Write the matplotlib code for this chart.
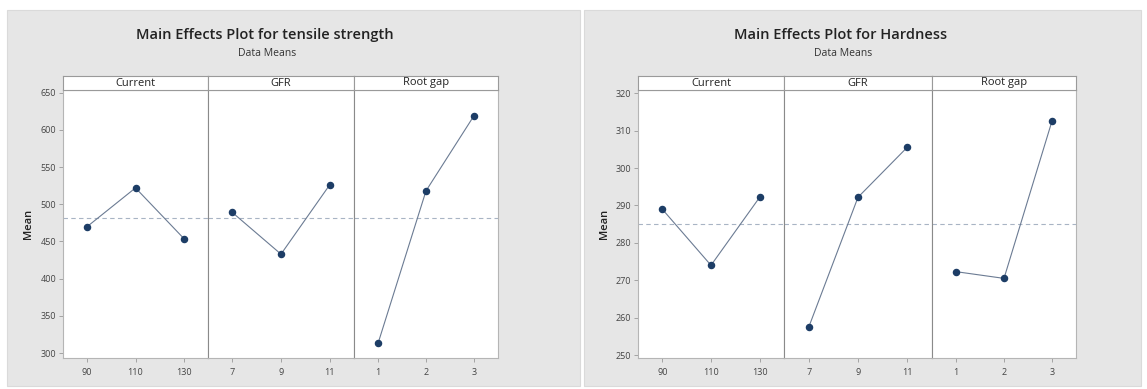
import numpy as np
import matplotlib.pyplot as plt
from matplotlib.patches import Rectangle

plt.rcParams['font.family'] = ['Open Sans', 'DejaVu Sans']

# factor levels
factors = ['Current', 'GFR', 'Root gap']
levels_current = ['90', '110', '130']
levels_gfr = ['7', '9', '11']
levels_gap = ['1', '2', '3']

# means
tensile_current = [470, 522, 454]
tensile_gfr = [489, 433, 526]
tensile_gap = [313, 518, 619]
tensile_mean = 482

hard_current = [289.0, 274.0, 292.2]
hard_gfr = [257.4, 292.2, 305.6]
hard_gap = [272.3, 270.5, 312.6]
hard_mean = 285.1

W, H = 1147, 389
fig = plt.figure(figsize=(W / 100, H / 100), dpi=100)
fig.patch.set_facecolor('white')

def fx(px):
    return px / W

def fy(py):
    return 1 - py / H

# grey backgrounds of the two minitab windows
for x0, x1 in [(7, 580), (584, 1141)]:
    fig.patches.append(Rectangle((fx(x0), fy(386)), fx(x1 - x0), (386 - 10) / H,
                                 transform=fig.transFigure, facecolor='#e6e6e6',
                                 edgecolor='#dadada', lw=0.8, zorder=-5))

line_c = '#6b7b93'
mark_c = '#1d3d66'
tick_c = '#444444'


def main_effects(xs, title, title_x, data, levels, mean, ylim, yticks, ylab_x):
    top, bottom = 90, 358
    fig.text(fx(title_x), fy(35), title, ha='center', va='center',
             fontsize=10.5, fontweight='semibold', color='#222222')
    fig.text(fx(title_x + 2), fy(54), 'Data Means', ha='center', va='center',
             fontsize=7.5, color='#333333')
    fig.text(fx(ylab_x), fy((top + bottom) / 2), 'Mean', rotation=90, ha='center',
             va='center', fontsize=8, fontweight='semibold', color='#222222')
    for i in range(3):
        a, b = xs[i], xs[i + 1]
        ax = fig.add_axes([fx(a), fy(bottom), fx(b - a), (bottom - top) / H])
        ax.set_facecolor('white')
        pos = np.arange(1, 4)
        ax.plot(pos, data[i], color=line_c, lw=0.8, zorder=2)
        ax.plot(pos, data[i], 'o', ms=4.4, color=mark_c, mec=mark_c, zorder=3)
        ax.axhline(mean, color='#a8b4c4', lw=0.8, ls=(0, (4, 3)), zorder=1)
        ax.set_xlim(0.5, 3.5)
        ax.set_ylim(*ylim)
        ax.set_xticks(pos)
        ax.set_xticklabels(levels[i])
        ax.tick_params(axis='x', length=3, width=0.6, color='#999999',
                       labelsize=6.5, labelcolor=tick_c, pad=4)
        if i == 0:
            ax.set_yticks(yticks)
            ax.tick_params(axis='y', length=3, width=0.6, color='#999999',
                           labelsize=6.5, labelcolor=tick_c, pad=2)
        else:
            ax.set_yticks([])
        for s in ax.spines.values():
            s.set_color('#b5b5b5')
            s.set_linewidth(0.8)
        if i > 0:
            ax.spines['left'].set_color('#8a8a8a')
        # strip with factor name
        st = fig.add_axes([fx(a), fy(top), fx(b - a), 14 / H])
        st.set_facecolor('white')
        st.set_xticks([])
        st.set_yticks([])
        for s in st.spines.values():
            s.set_color('#9a9a9a')
            s.set_linewidth(0.8)
        st.text(0.5, 0.5, factors[i], ha='center', va='center',
                fontsize=8, color='#222222', transform=st.transAxes)


main_effects([63, 208, 354, 498], 'Main Effects Plot for tensile strength', 265,
             [tensile_current, tensile_gfr, tensile_gap],
             [levels_current, levels_gfr, levels_gap], tensile_mean,
             (293.5, 653.5), [300, 350, 400, 450, 500, 550, 600, 650], 28)

main_effects([638, 784, 932, 1076], 'Main Effects Plot for Hardness', 841,
             [hard_current, hard_gfr, hard_gap],
             [levels_current, levels_gfr, levels_gap], hard_mean,
             (249.2, 320.9), [250, 260, 270, 280, 290, 300, 310, 320], 604)

fig.savefig('out.png', dpi=100)
